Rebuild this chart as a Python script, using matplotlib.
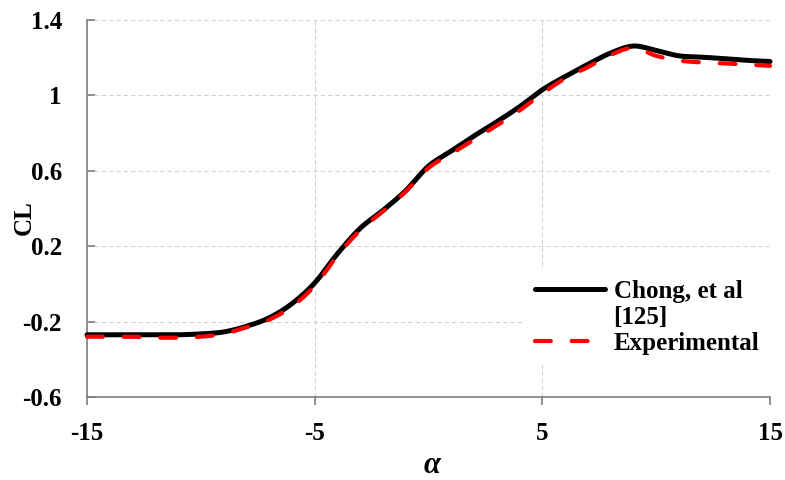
import numpy as np
import matplotlib
matplotlib.use("Agg")
import matplotlib.pyplot as plt
from matplotlib.lines import Line2D

# Angle of attack (deg)
alpha = list(range(-15, 16))

# Lift coefficient, Chong et al. [125]
cl_chong = [-0.27, -0.27, -0.27, -0.27, -0.27, -0.265, -0.255, -0.225, -0.18, -0.105,
            0.005, 0.16, 0.295, 0.39, 0.495, 0.625, 0.705, 0.785, 0.86, 0.94,
            1.03, 1.10, 1.165, 1.225, 1.262, 1.238, 1.21, 1.203, 1.195, 1.186, 1.18]

# Lift coefficient, experimental
cl_exp = [-0.28, -0.28, -0.28, -0.285, -0.285, -0.28, -0.265, -0.23, -0.19, -0.12,
          -0.01, 0.15, 0.285, 0.385, 0.49, 0.615, 0.69, 0.765, 0.84, 0.92,
          1.01, 1.09, 1.15, 1.215, 1.252, 1.21, 1.185, 1.175, 1.17, 1.163, 1.157]

x_ticks = [-15, -5, 5, 15]
y_ticks = [-0.6, -0.2, 0.2, 0.6, 1.0, 1.4]
y_tick_labels = ["-0.6", "-0.2", "0.2", "0.6", "1", "1.4"]


def smooth(x, y, n=20):
    """Catmull-Rom curve through the given points (smoothed line rendering)."""
    x = np.asarray(x, float)
    y = np.asarray(y, float)
    px = np.concatenate([[2 * x[0] - x[1]], x, [2 * x[-1] - x[-2]]])
    py = np.concatenate([[2 * y[0] - y[1]], y, [2 * y[-1] - y[-2]]])
    t = np.linspace(0, 1, n, endpoint=False)
    xs, ys = [], []
    for i in range(1, len(px) - 2):
        for arr, out in ((px, xs), (py, ys)):
            p0, p1, p2, p3 = arr[i - 1], arr[i], arr[i + 1], arr[i + 2]
            out.append(0.5 * ((2 * p1) + (-p0 + p2) * t
                              + (2 * p0 - 5 * p1 + 4 * p2 - p3) * t ** 2
                              + (-p0 + 3 * p1 - 3 * p2 + p3) * t ** 3))
    xs.append([x[-1]])
    ys.append([y[-1]])
    return np.concatenate(xs), np.concatenate(ys)


serif = ["Liberation Serif", "DejaVu Serif"]
plt.rcParams["font.family"] = serif

fig = plt.figure(figsize=(7.85, 4.8), dpi=100)
ax = fig.add_axes([0.1108, 0.1729, 0.8701, 0.7854])

xs, ys = smooth(alpha, cl_chong)
ax.plot(xs, ys, color="black", lw=3.6, solid_capstyle="round", zorder=3, clip_on=False)
xe, ye = smooth(alpha, cl_exp)
ax.plot(xe, ye, color="#ff0000", lw=3.0, dashes=(3.8, 5.0), dash_capstyle="round",
        zorder=4, clip_on=False)

ax.set_xlim(-15, 15)
ax.set_ylim(-0.6, 1.4)
ax.set_xticks(x_ticks)
ax.set_xticklabels([str(v) for v in x_ticks])
ax.set_yticks(y_ticks)
ax.set_yticklabels(y_tick_labels)

ax.grid(True, color="#cfcfcf", lw=0.75, dashes=(4, 3))
ax.set_axisbelow(True)

for side in ("top", "right"):
    ax.spines[side].set_visible(False)
for side in ("left", "bottom"):
    ax.spines[side].set_color("#7f7f7f")
    ax.spines[side].set_linewidth(1.2)

ax.tick_params(axis="x", direction="out", length=6, width=1.2, color="#7f7f7f",
               pad=12, labelsize=18)
ax.tick_params(axis="y", direction="in", length=6, width=1.2, color="#7f7f7f",
               pad=18, labelsize=18)
for lab in ax.get_xticklabels() + ax.get_yticklabels():
    lab.set_fontweight("bold")

ax.set_ylabel("CL", fontsize=18, fontweight="bold", va="center")
ax.yaxis.set_label_coords(-0.092, 0.477)
ax.set_xlabel("α", fontsize=22, fontstyle="italic", fontweight="bold", va="center")
ax.xaxis.set_label_coords(0.505, -0.183)

handles = [
    Line2D([], [], color="black", lw=3.6, solid_capstyle="round"),
    Line2D([], [], color="none"),
    Line2D([], [], color="#ff0000", lw=3.0, dashes=(3.8, 5.0), dash_capstyle="round"),
]
labels = ["Chong, et al", "[125]", "Experimental"]
leg = ax.legend(handles, labels, loc="upper left", bbox_to_anchor=(0.641, 0.337),
                frameon=True, fancybox=False, edgecolor="none", facecolor="white",
                framealpha=1.0, prop={"family": serif, "weight": "bold", "size": 18},
                handlelength=2.8, handletextpad=0.35, labelspacing=0.12,
                borderpad=0.4, borderaxespad=0.0)
leg.set_zorder(5)

fig.savefig("out.png", dpi=100)
